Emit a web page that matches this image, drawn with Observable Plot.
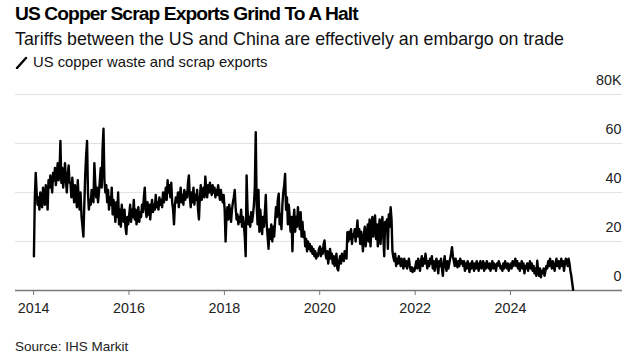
<!DOCTYPE html>
<html>
<head>
<meta charset="utf-8">
<script src="https://cdn.jsdelivr.net/npm/d3@7"></script>
<script src="https://cdn.jsdelivr.net/npm/@observablehq/plot@0.6"></script>
<style>
  html, body { margin: 0; padding: 0; background: #fff; }
  body { width: 638px; height: 355px; position: relative; overflow: hidden; font-family: "Liberation Sans", Arial, sans-serif; color: #000; }
  .abs { position: absolute; left: 15px; white-space: nowrap; }
  #title { top: 4px; font-size: 19.2px; line-height: 20px; font-weight: bold; letter-spacing: -0.9px; }
  #subtitle { top: 30px; font-size: 17.8px; line-height: 18px; color: #111; }
  #legend { top: 55px; font-size: 14.8px; line-height: 15px; color: #111; display: flex; align-items: center; }
  #legend svg { margin-right: 5px; }
  #chart { position: absolute; left: 0; top: 72px; }
  #source { top: 340px; font-size: 13.5px; line-height: 14px; color: #222; }
</style>
</head>
<body>
<div id="title" class="abs">US Copper Scrap Exports Grind To A Halt</div>
<div id="subtitle" class="abs">Tariffs between the US and China are effectively an embargo on trade</div>
<div id="legend" class="abs"><svg width="13" height="13" viewBox="0 0 13 13"><line x1="2" y1="12" x2="11" y2="2" stroke="#000" stroke-width="2.4" stroke-linecap="round"/></svg><span>US copper waste and scrap exports</span></div>
<div id="chart"></div>
<div id="source" class="abs">Source: IHS Markit</div>
<script>
// Weekly US copper waste and scrap exports (thousand tonnes)
const exports2014 = [14,38,48,40, 35,38,33,40,36,34,42,37, 35,43,40,33,45,42,47,44, 40,48,45,50,43,47,52,45,48,61, 44,50,42,46,52,45,40,47,51,44, 44,38,46,41,36,43,39,34,45,37,33,40];
const exports2015 = [30,26,22, 35,47, 55,61, 40,33,37,35,41, 38,36,52,44,38, 42,36,40,45,50, 42,58,66,45, 40,43,36,41,33,38,35, 42,31,37,33,28,36,30, 40,27,33,26,35,30, 28,33,26,23,30,27];
const exports2016 = [31,35,28,33,30,37, 29,33,27,31,34,28,32,30, 35,32,38,42, 33,30,36,31,35,29,34,37,32,35, 33,39,34,36,33,38,35,37, 34,40,36,38,42,37,45,40, 43,38,44,36,33,27,35,38];
const exports2017 = [36,40,34,38,42,36, 39,35,41,37,40,38, 44,47, 38,34,40,36,42,35,39,37, 41,33,29,38,43,37,40,42, 38,46.5, 41,38,43,40,44,41,39,43, 40,42,38,41,39,43,40,37,41,38,36,39];
const exports2018 = [33,20, 30,34,29,35,32,28,33,36, 38,41,34, 29,31,27,30,28,33,26, 30,27,22,14, 47, 33,27,30,26,32,28,31,35, 42,64.6, 35,27,41,24,33,28,23,30,26, 32,39,27,22,17,25,21,27];
const exports2019 = [20,26,22,28, 34,30,37,39.5, 27,31,25,35, 40,43,47.6, 33,38,27,35,30, 24,30,16, 28,33,24,30,26,34,29, 25,32,22,28,21.8,24, 18,21,16,20,17,19, 16,18,15,17,14,16,13,15,14,17];
const exports2020 = [18,14,17,15,19,20.4, 15,13,16,11,14,17, 13,15,11,14,10,12,15,9, 8.2,12,14,11,15,13,12, 16,14,13, 23.8,20,24,21,25,19,23,22,25,20, 24,28.6,22,25,19,24,21,16,23,26,18,22];
const exports2021 = [27,20,29,18,25,30, 22,28,30.6,21, 27,18,25,29,19,26, 30,22,14,28,24,29,17,31,26, 34,29, 16,13.6, 12,15,10,13,11,14,12,10,13, 11,9,13,10,12,9,11,13,10, 8,9.5,7.5,9,8];
const exports2022 = [10,12,9,13,11,8,12,14, 10,13,11,15,12,9, 12,10,13,11,14,9,12,8,11,13,10, 7,12,10,13,9,6,11,14,10,8,12,9,11, 13,15,17.7, 14,12,10,13,11,9.5,12,10,13,11,12];
const exports2023 = [10,12,8,11,9,12,10,7.5,11,9,12,10,8, 11,9,12,10,8,11,12,9,10,12,8,11,9, 12,10,9,11,8,10,12,9,11,10,8,11,10, 12,11,9,10,8,11,9,12,10,9,11,8,10];
const exports2024 = [11,9,12,10,11,13, 10,12,9,11,8,10,12,9,11,7,10,9,11,8, 10,12,9,11,8,10,7, 9,6,12.2,8, 6,9,5.4,8,7,9,6, 8,10,9,12,10,13,11,9,12,10,8,11,13,10];
const exports2025 = [12,9,11,13,10,12,8,11,13,12,10,13,11,8,6,3,0.3];

const seriesYears = [2014,2015,2016,2017,2018,2019,2020,2021,2022,2023,2024,2025];
const seriesByYear = [exports2014,exports2015,exports2016,exports2017,exports2018,exports2019,exports2020,exports2021,exports2022,exports2023,exports2024,exports2025];

const yTicks = [0, 20, 40, 60, 80];
const yTickLabels = ["0", "20", "40", "60", "80K"];
const xTickYears = [2014, 2016, 2018, 2020, 2022, 2024];

const data = [];
seriesYears.forEach((yr, k) => {
  seriesByYear[k].forEach((v, i) => {
    data.push({date: new Date(Date.UTC(yr, 0, 3 + 7 * i)), value: v});
  });
});

const chart = Plot.plot({
  width: 638,
  height: 255,
  marginLeft: 15,
  marginRight: 16,
  marginTop: 22,
  marginBottom: 37,
  style: {fontFamily: '"Liberation Sans", Arial, sans-serif', background: "#fff"},
  x: {type: "utc", domain: [new Date(Date.UTC(2013, 7, 15)), new Date(Date.UTC(2026, 4, 8))]},
  y: {domain: [0, 80], axis: null},
  marks: [
    Plot.gridY(yTicks.filter(d => d > 0), {stroke: "#e2e2e2", strokeOpacity: 1, strokeWidth: 1}),
    Plot.axisX(xTickYears.map(y => new Date(Date.UTC(y, 0, 1))), {
      tickSize: 5, tickPadding: 7, tickFormat: "%Y", stroke: "#777", fontSize: 14.3, fill: "#222", label: null
    }),
    Plot.ruleY([0], {stroke: "#777", strokeWidth: 1.5}),
    Plot.line(data, {x: "date", y: "value", stroke: "#000", strokeWidth: 2.4, strokeLinejoin: "round", strokeLinecap: "round"}),
    Plot.text(yTicks, {y: d => d, text: (d, i) => yTickLabels[i], frameAnchor: "right", textAnchor: "end", dx: -1, dy: -14, fontSize: 14.3, fill: "#222"})
  ]
});
document.getElementById("chart").appendChild(chart);
</script>
</body>
</html>
